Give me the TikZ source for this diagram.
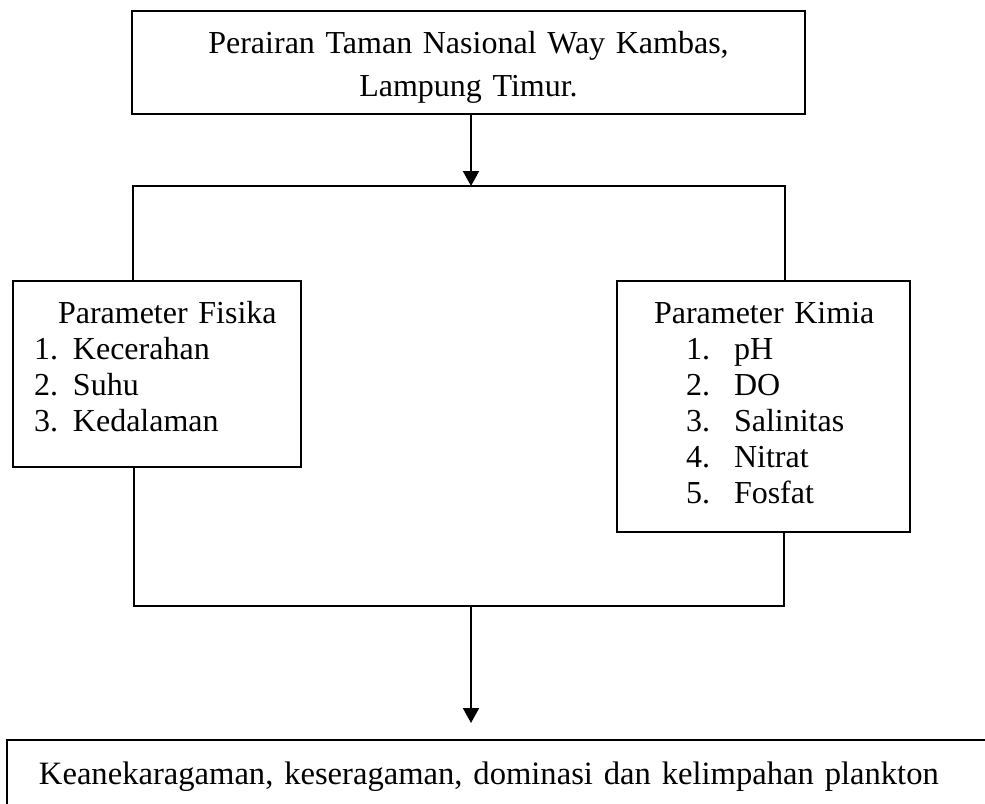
\documentclass[tikz,border=0pt]{standalone}
\usepackage{fontspec}
\setmainfont{Liberation Serif}
\usepackage{tikz}
\usetikzlibrary{arrows.meta,positioning,calc}

\newcommand{\butir}[3]{\hspace*{#1}\makebox[#2][l]{#3}}

\begin{document}
\begin{tikzpicture}[x=0.5pt,y=-0.5pt,
  every node/.style={font=\fontsize{16}{18}\selectfont},
  kotak/.style={draw,line width=1pt,anchor=north west,align=left,
    inner ysep=10.5pt,text height=10.5pt},
  garis/.style={line width=1pt},
  panah/.style={garis,-{Triangle[width=8pt,length=7.5pt]}}]

  \clip (0,0) rectangle (985,803);

  % kotak lokasi
  \node[kotak,align=center,text width=316.5pt,inner xsep=10pt,text depth=20pt,
    font=\fontsize{16}{21.5}\selectfont](lokasi) at (131,10)
    {Perairan Taman Nasional Way Kambas,\\Lampung Timur.};

  % parameter
  \node[kotak,text width=123pt,inner xsep=10.5pt,text depth=61.5pt](fisika) at (12,280)
    {\butir{12pt}{0pt}{}Parameter Fisika\\
     \butir{0pt}{19.5pt}{1.}Kecerahan\\
     \butir{0pt}{19.5pt}{2.}Suhu\\
     \butir{0pt}{19.5pt}{3.}Kedalaman};
  \node[kotak,text width=109.5pt,inner xsep=18.5pt,text depth=94pt](kimia) at (616,280)
    {\mbox{Parameter Kimia}\\
     \butir{16pt}{24pt}{1.}pH\\
     \butir{16pt}{24pt}{2.}DO\\
     \butir{16pt}{24pt}{3.}Salinitas\\
     \butir{16pt}{24pt}{4.}Nitrat\\
     \butir{16pt}{24pt}{5.}Fosfat};

  % hasil
  \node[kotak,text width=465pt,inner xsep=16pt,inner ysep=11.5pt,text depth=12pt,
    font=\fontsize{16.3}{18}\selectfont](hasil) at (6,739)
    {\mbox{Keanekaragaman, keseragaman, dominasi dan kelimpahan plankton}};

  \coordinate (cabangkiri) at (133,186);
  \coordinate (cabangkanan) at (785,186);
  \coordinate (gabungkiri) at (134,606);
  \coordinate (gabungkanan) at (784,606);
  \coordinate (gabung) at (471,606);

  \draw[panah](lokasi.south -| gabung) -- (gabung |- cabangkiri);
  \draw[garis](cabangkiri |- fisika.north) -- (cabangkiri) -- (cabangkanan) -- (cabangkanan |- kimia.north);
  \draw[garis](gabungkiri |- fisika.south) -- (gabungkiri) -- (gabungkanan) -- (gabungkanan |- kimia.south);
  \draw[panah,shorten >=8pt](gabung) -- (gabung |- hasil.north);
\end{tikzpicture}
\end{document}
